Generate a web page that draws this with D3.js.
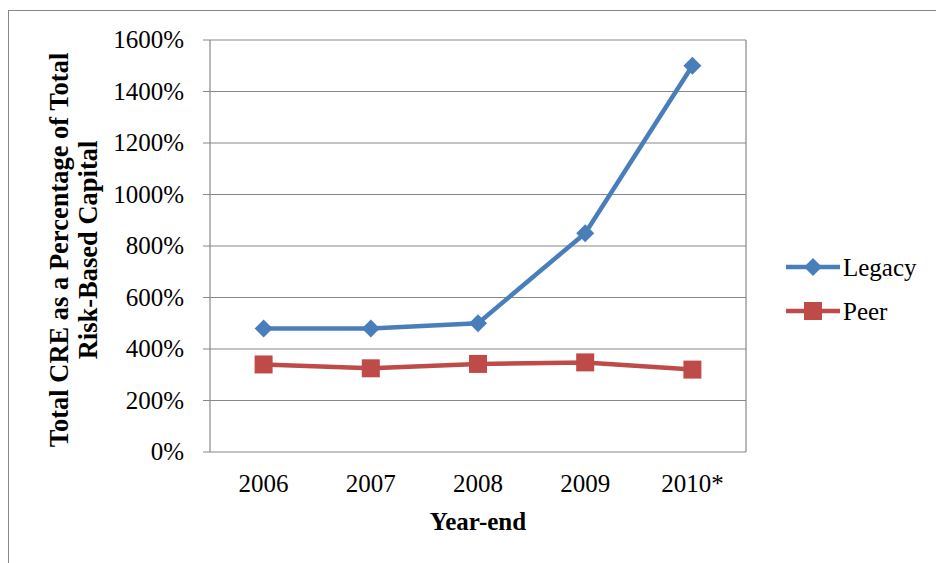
<!DOCTYPE html>
<html><head><meta charset="utf-8">
<script src="https://cdn.jsdelivr.net/npm/d3@7"></script>
<style>body{margin:0;background:#fff}text{font-family:"Liberation Serif","Times New Roman",serif}</style>
</head><body><svg id="c" width="936" height="563"></svg>
<script>
const categories=["2006","2007","2008","2009","2010*"];
const legacy=[480,480,500,850,1500];
const peer=[340,325,342,348,320];
const yTicks=[0,200,400,600,800,1000,1200,1400,1600];
const svg=d3.select("#c");
svg.append("rect").attr("x",8.5).attr("y",10.5).attr("width",940).attr("height",560).attr("fill","none").attr("stroke","#888");
const x=d3.scaleBand().domain(categories).range([210,746]);
const y=d3.scaleLinear().domain([0,1600]).range([452,40]);
const g=svg.append("g");
yTicks.forEach(t=>{
 g.append("line").attr("x1",203).attr("x2",746).attr("y1",y(t)).attr("y2",y(t)).attr("stroke","#888").attr("stroke-width",1.2);
 g.append("text").attr("x",184).attr("y",y(t)+8).attr("text-anchor","end").attr("font-size",25).text(t+"%");
});
g.append("line").attr("x1",210).attr("x2",210).attr("y1",40).attr("y2",452).attr("stroke","#888").attr("stroke-width",1.2);
g.append("line").attr("x1",746).attr("x2",746).attr("y1",40).attr("y2",452).attr("stroke","#888").attr("stroke-width",1.2);
categories.forEach((c,i)=>{
 g.append("text").attr("x",x(c)+x.bandwidth()/2).attr("y",492).attr("text-anchor","middle").attr("font-size",25).text(c);
});
const cx=c=>x(c)+x.bandwidth()/2;
const line=d3.line().x((d,i)=>cx(categories[i])).y(d=>y(d));
g.append("path").datum(legacy).attr("d",line).attr("fill","none").attr("stroke","#4a7ebb").attr("stroke-width",4.5);
g.append("path").datum(peer).attr("d",line).attr("fill","none").attr("stroke","#be4b48").attr("stroke-width",4.5);
const diamond=(sel,px,py,s)=>sel.append("path").attr("d",`M${px},${py-s}L${px+s},${py}L${px},${py+s}L${px-s},${py}Z`).attr("fill","#4a7ebb");
legacy.forEach((v,i)=>diamond(g,cx(categories[i]),y(v),9));
peer.forEach((v,i)=>g.append("rect").attr("x",cx(categories[i])-9).attr("y",y(v)-9).attr("width",18).attr("height",18).attr("fill","#be4b48"));
g.append("line").attr("x1",786).attr("x2",840).attr("y1",267).attr("y2",267).attr("stroke","#4a7ebb").attr("stroke-width",4.5);
diamond(g,813,267,9);
g.append("text").attr("x",843).attr("y",276).attr("font-size",25).text("Legacy");
g.append("line").attr("x1",786).attr("x2",840).attr("y1",311).attr("y2",311).attr("stroke","#be4b48").attr("stroke-width",4.5);
g.append("rect").attr("x",804).attr("y",302).attr("width",18).attr("height",18).attr("fill","#be4b48");
g.append("text").attr("x",843).attr("y",320).attr("font-size",25).text("Peer");
g.append("text").attr("x",478).attr("y",530).attr("text-anchor","middle").attr("font-size",25).attr("font-weight","bold").text("Year-end");
const yt=g.append("text").attr("transform","translate(68,250) rotate(-90)").attr("text-anchor","middle").attr("font-size",26.5).attr("font-weight","bold");
yt.append("tspan").attr("x",0).attr("dy",0).text("Total CRE as a Percentage of Total");
yt.append("tspan").attr("x",0).attr("dy",29).text("Risk-Based Capital");
</script></body></html>
